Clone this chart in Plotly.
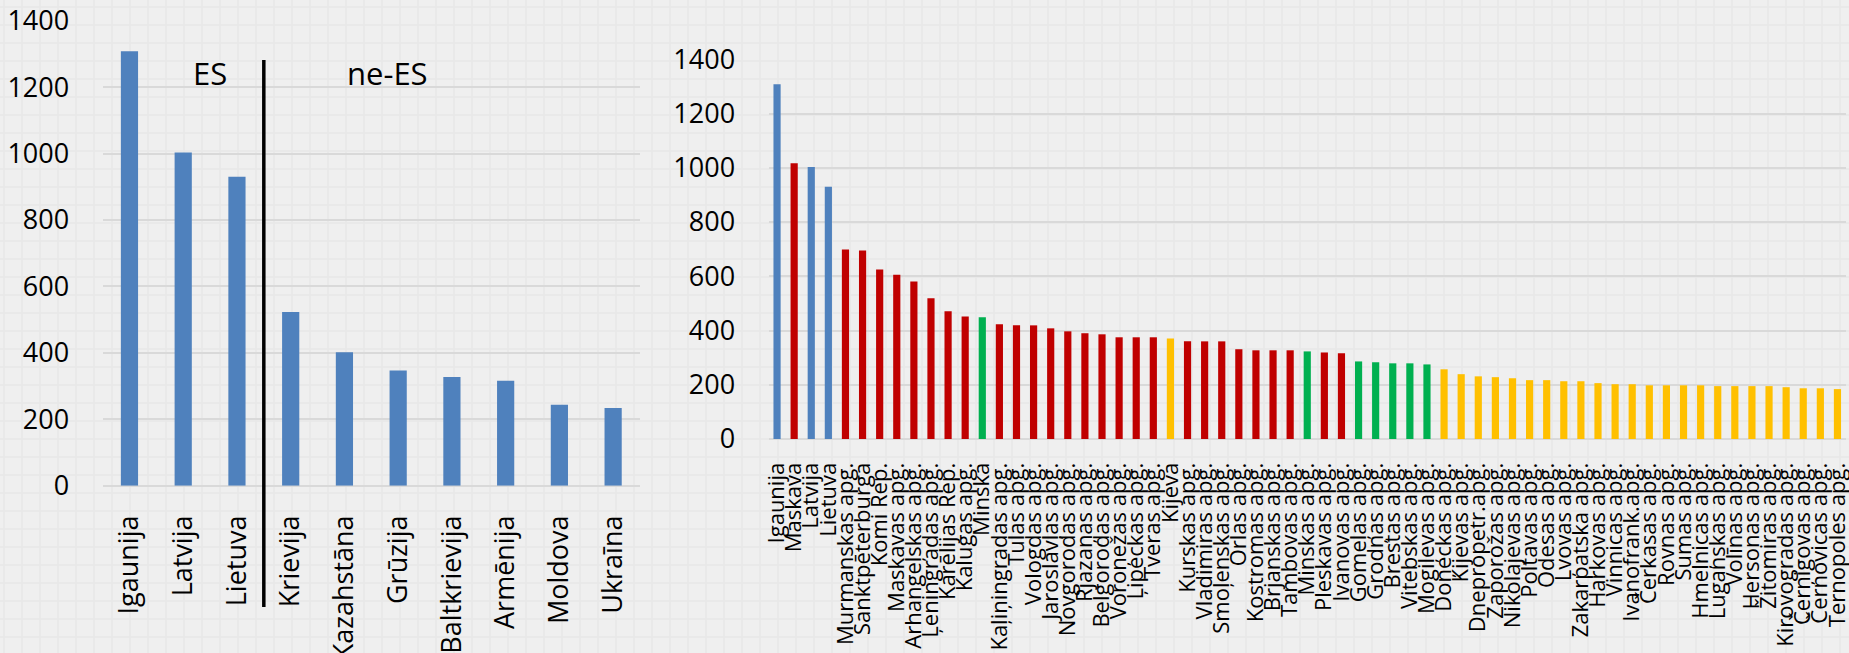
import plotly.graph_objects as go
from plotly.subplots import make_subplots

# left chart: countries
countries = ["Igaunija", "Latvija", "Lietuva", "Krievija", "Kazahstāna",
             "Grūzija", "Baltkrievija", "Armēnija", "Moldova", "Ukraīna"]
country_vals = [1308, 1003, 930, 523, 402, 347, 327, 316, 244, 234]
n_es = 3  # first three are EU members

# right chart: regions
regions = [
    "Igaunija", "Maskava", "Latvija", "Lietuva", "Murmanskas apg.",
    "Sanktpēterburga", "Komi Rep.", "Maskavas apg.", "Arhangeļskas apg.",
    "Ļeningradas apg.", "Karēlijas Rep.", "Kalugas apg.", "Minska",
    "Kaļiņingradas apg.", "Tulas apg.", "Vologdas apg.", "Jaroslavļas apg.",
    "Novgorodas apg.", "Rjazaņas apg.", "Belgorodas apg.", "Voroņežas apg.",
    "Ļipeckas apg.", "Tveras apg.", "Kijeva", "Kurskas apg.",
    "Vladimiras apg.", "Smoļenskas apg.", "Orlas apg.", "Kostromas apg.",
    "Brjanskas apg.", "Tambovas apg.", "Minskas apg.", "Pleskavas apg.",
    "Ivanovas apg.", "Gomeļas apg.", "Grodņas apg.", "Brestas apg.",
    "Vitebskas apg.", "Mogiļevas apg.", "Doņeckas apg.", "Kijevas apg.",
    "Dnepropetr.apg.", "Zaporožas apg.", "Nikolajevas apg.", "Poltavas apg.",
    "Odesas apg.", "Ļvovas apg.", "Zakarpatska apg.", "Harkovas apg.",
    "Vinnicas apg.", "Ivanofrank.apg.", "Čerkasas apg.", "Rovnas apg.",
    "Sumas apg.", "Hmeļnicas apg.", "Luganskas apg.", "Volīnas apg.",
    "Hersonas apg.", "Žitomiras apg.", "Kirovogradas apg.", "Čerņigovas apg.",
    "Černovicas apg.", "Ternopoles apg.",
]
region_vals = [
    1308, 1017, 1003, 930, 699, 695, 625, 606, 581, 519, 471, 452, 449,
    423, 419, 419, 408, 397, 390, 386, 375, 375, 375, 371, 360, 360, 360,
    331, 327, 327, 327, 323, 319, 316, 286, 283, 279, 279, 275, 257, 239,
    231, 228, 224, 217, 217, 213, 213, 206, 202, 202, 198, 198, 198, 198,
    195, 195, 195, 195, 191, 187, 187, 184,
]
region_group = (
    ["ES", "RU", "ES", "ES"] + ["RU"] * 8 + ["BY"] + ["RU"] * 10 + ["UA"]
    + ["RU"] * 7 + ["BY"] + ["RU"] * 2 + ["BY"] * 5 + ["UA"] * 24
)

group_colors = {"ES": "#4F81BD", "RU": "#C00000", "BY": "#00B050", "UA": "#FFC000"}

W, H = 1849, 653
BG = "#efefef"
GRID = "#d9d9d9"
FONT = "Open Sans"

fig = make_subplots(rows=1, cols=2)

fig.add_trace(go.Bar(x=countries, y=country_vals, width=0.32,
                     marker=dict(color=group_colors["ES"], line_width=0),
                     showlegend=False), row=1, col=1)
fig.add_trace(go.Bar(x=regions, y=region_vals, width=0.42,
                     marker=dict(color=[group_colors[g] for g in region_group],
                                 line_width=0),
                     showlegend=False), row=1, col=2)

# faint graph-paper texture behind everything
step = 18
shapes = []
for i in range(0, W + step, step):
    shapes.append(dict(type="line", xref="paper", yref="paper",
                       x0=(i + 4) / W, x1=(i + 4) / W, y0=0, y1=1,
                       line=dict(color="#e7e7e7", width=1.5), layer="below"))
for j in range(0, H + step, step):
    shapes.append(dict(type="line", xref="paper", yref="paper",
                       x0=0, x1=1, y0=1 - (j + 7) / H, y1=1 - (j + 7) / H,
                       line=dict(color="#e7e7e7", width=1.5), layer="below"))

# ES / ne-ES divider
shapes.append(dict(type="line", xref="x", yref="paper",
                   x0=n_es - 0.5, x1=n_es - 0.5,
                   y0=1 - 607 / H, y1=1 - 60 / H,
                   line=dict(color="black", width=3.5)))

fig.update_layout(
    width=W, height=H,
    margin=dict(l=0, r=0, t=0, b=0, autoexpand=False),
    paper_bgcolor=BG, plot_bgcolor="rgba(0,0,0,0)",
    font=dict(family=FONT, color="black"),
    shapes=shapes,
    annotations=[
        dict(x=(n_es - 1) / 2 + 0.5, y=1244, xref="x", yref="y", text="ES",
             showarrow=False, font=dict(size=31, family=FONT)),
        dict(x=4.8, y=1244, xref="x", yref="y", text="ne-ES",
             showarrow=False, font=dict(size=31, family=FONT)),
    ],
)

fig.update_xaxes(showgrid=False, zeroline=False, showline=False,
                 automargin=False,
                 tickangle=-90, ticks="outside", tickcolor="rgba(0,0,0,0)")
fig.update_yaxes(range=[0, 1400], dtick=200, gridcolor=GRID, gridwidth=2,
                 automargin=False,
                 zeroline=True, zerolinecolor=GRID, zerolinewidth=2,
                 showline=False, ticks="outside", tickcolor="rgba(0,0,0,0)",
                 ticklen=27, tickfont=dict(size=27))

fig.update_layout(
    xaxis=dict(domain=[102.6 / W, 640 / W], tickfont=dict(size=27),
               ticklen=18),
    yaxis=dict(domain=[1 - 485.7 / H, 1 - 20.7 / H]),
    xaxis2=dict(domain=[768.5 / W, 1846 / W], tickfont=dict(size=22),
                tickmode="array", tickvals=regions, ticktext=regions,
                ticklen=14),
    yaxis2=dict(domain=[1 - 439 / H, 1 - 59.3 / H]),
)

fig.write_html(
    "out.html",
    config={"displayModeBar": False},
    post_script="document.body.style.margin='0';"
                "document.body.style.overflow='hidden';",
)
